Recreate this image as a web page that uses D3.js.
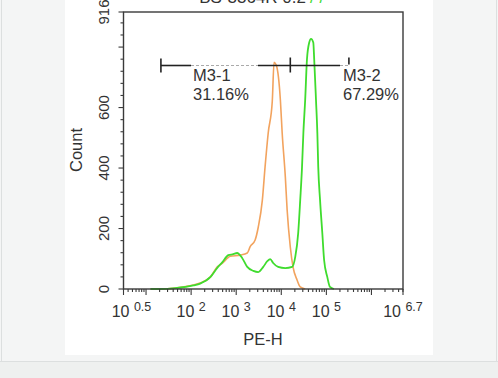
<!DOCTYPE html>
<html><head><meta charset="utf-8">
<script src="https://cdn.jsdelivr.net/npm/d3@7"></script>
<style>
html,body{margin:0;padding:0;background:#f4f5f5;}
svg{display:block;font-family:"Liberation Sans",Arial,sans-serif;}
</style></head>
<body>
<svg id="chart" width="498" height="378"></svg>
<script>
// x values are log10(PE-H)
const controlLog   = [1.10,1.32,1.65,2.05,2.20,2.43,2.58,2.69,2.87,3.09,3.245,3.31,3.42,3.49,3.58,3.64,3.71,3.80,3.84,3.89,3.98,4.02,4.09,4.13,4.20,4.26,4.35,4.42,4.53];
const controlCount = [0,   0,   3,   13,  20,  40,  73,  85,  108, 112, 119,  140, 162, 205, 294, 403, 516, 620, 750, 740, 625, 516, 370, 261, 139, 73,  30,  7,   0];
const sampleLog    = [1.10,1.32,1.65,2.05,2.20,2.43,2.58,2.69,2.825,2.935,3.02,3.135,3.245,3.38,3.49,3.60,3.69,3.755,3.82,3.93,4.09,4.24,4.31,4.375,4.42,4.46,4.49,4.53,4.57,4.62,4.66,4.71,4.73,4.77,4.80,4.82,4.86,4.91,4.95,5.02,5.08,5.17];
const sampleCount  = [0,   0,   3,   12,  18,  40,  70,  88,  112,  115,  119, 102,  73,   60,  56,  73,  92,  99,   86,  73,  69,  73,  106, 185,  294, 403, 516, 625, 760, 815, 827, 815, 760, 625, 516, 403, 294, 185, 96,  40,  7,   0];
const xTickExps    = ["0.5","2","3","4","5","6.7"];
const xTickVals    = [0.5,2,3,4,5,6.7];
const yTickVals    = [0,200,400,600,916];
const markers = [
  {name:"M3-1", pct:"31.16%", from:1.33, to:4.20},
  {name:"M3-2", pct:"67.29%", from:4.20, to:5.50}
];
const titleDark = "BS-3364R 0.2";
const titleGreen = "/ /";

const svg = d3.select("#chart");
// backgrounds
svg.append("rect").attr("x",0).attr("y",0).attr("width",498).attr("height",378).attr("fill","#f4f5f5");
svg.append("rect").attr("x",0).attr("y",361).attr("width",498).attr("height",17).attr("fill","#eef0ef");
svg.append("line").attr("x1",0).attr("x2",498).attr("y1",361.5).attr("y2",361.5).attr("stroke","#dcdfdf");
svg.append("line").attr("x1",1.5).attr("x2",1.5).attr("y1",0).attr("y2",361).attr("stroke","#dcdfdf");
svg.append("line").attr("x1",496.5).attr("x2",496.5).attr("y1",0).attr("y2",361).attr("stroke","#dcdfdf");
svg.append("rect").attr("x",65).attr("y",0).attr("width",368).attr("height",355).attr("fill","#ffffff");

const L=123.5, R=403, T=12, B=289;
const x = d3.scaleLinear().domain([0.5,6.7]).range([L,R]);
const y = d3.scaleLinear().domain([0,916]).range([B,T]);

// title (clipped at top)
const tt = svg.append("text").attr("x",306).attr("y",3).attr("text-anchor","end")
  .attr("font-size",17).attr("fill","#333").text(titleDark);
svg.append("text").attr("x",310).attr("y",3).attr("font-size",17).attr("fill","#44dd33").text(titleGreen);

// curves
const line = d3.line().x(d=>x(d[0])).y(d=>y(d[1])).curve(d3.curveMonotoneX);
svg.append("path").datum(controlLog.map((v,i)=>[v,controlCount[i]]))
  .attr("d",line).attr("fill","none").attr("stroke","#f2a35e").attr("stroke-width",1.6);
svg.append("path").datum(sampleLog.map((v,i)=>[v,sampleCount[i]]))
  .attr("d",line).attr("fill","none").attr("stroke","#3fdc2e").attr("stroke-width",1.8);

// frame
const frameColor="#3a3a3a";
svg.append("rect").attr("x",L).attr("y",T).attr("width",R-L).attr("height",B-T)
  .attr("fill","none").attr("stroke",frameColor).attr("stroke-width",1.4);

// y axis ticks
const yMinor = d3.range(0,916,40);
const yAxis = svg.append("g").attr("stroke",frameColor).attr("stroke-width",1.1);
yMinor.forEach(v=>{
  const major = v%200===0;
  yAxis.append("line").attr("x1",L-(major?5:3)).attr("x2",L).attr("y1",y(v)).attr("y2",y(v));
});
yAxis.append("line").attr("x1",L-5).attr("x2",L).attr("y1",y(916)).attr("y2",y(916));
yTickVals.forEach(v=>{
  svg.append("text").attr("transform",`translate(${L-15},${y(v)}) rotate(-90)`)
    .attr("text-anchor","middle").attr("font-size",15).attr("fill","#333").text(v);
});
svg.append("text").attr("transform",`translate(82,150) rotate(-90)`)
  .attr("text-anchor","middle").attr("font-size",16.5).attr("fill","#333").text("Count");

// x axis ticks
const xAxis = svg.append("g").attr("stroke",frameColor).attr("stroke-width",1.1);
for(let d=0; d<=6; d++){
  for(let m=1; m<=9; m++){
    const lv = d+Math.log10(m);
    if(lv<0.5||lv>6.7) continue;
    const major = m===1;
    xAxis.append("line").attr("x1",x(lv)).attr("x2",x(lv)).attr("y1",B).attr("y2",B+(major?6:3));
  }
}
xAxis.append("line").attr("x1",x(0.5)).attr("x2",x(0.5)).attr("y1",B).attr("y2",B+6);
xAxis.append("line").attr("x1",x(6.7)).attr("x2",x(6.7)).attr("y1",B).attr("y2",B+6);
xTickVals.forEach((v,i)=>{
  const t = svg.append("text").attr("x",x(v)+(i===0?8:0)).attr("y",317)
    .attr("text-anchor","middle").attr("font-size",16).attr("fill","#333");
  t.append("tspan").text("10 ");
  t.append("tspan").attr("font-size",12.5).attr("dy",-6).text(xTickExps[i]);
});
svg.append("text").attr("x",263).attr("y",345).attr("text-anchor","middle")
  .attr("font-size",16.5).attr("fill","#333").text("PE-H");

// markers
const my = 65.5;
const mg = svg.append("g");
// M3-1
const a = x(markers[0].from), b = x(markers[0].to), c = x(markers[1].to);
mg.append("line").attr("x1",a).attr("x2",191).attr("y1",my).attr("y2",my).attr("stroke","#222").attr("stroke-width",1.6);
mg.append("line").attr("x1",191).attr("x2",258).attr("y1",my).attr("y2",my).attr("stroke","#aaa").attr("stroke-width",1).attr("stroke-dasharray","3,2");
mg.append("line").attr("x1",258).attr("x2",b).attr("y1",my).attr("y2",my).attr("stroke","#222").attr("stroke-width",1.6);
mg.append("line").attr("x1",a).attr("x2",a).attr("y1",my-7).attr("y2",my+7).attr("stroke","#222").attr("stroke-width",1.6);
mg.append("line").attr("x1",b).attr("x2",b).attr("y1",my-8).attr("y2",my+7).attr("stroke","#222").attr("stroke-width",1.6);
// M3-2
mg.append("line").attr("x1",b).attr("x2",340).attr("y1",my).attr("y2",my).attr("stroke","#222").attr("stroke-width",1.6);
mg.append("line").attr("x1",340).attr("x2",c).attr("y1",my).attr("y2",my).attr("stroke","#aaa").attr("stroke-width",1).attr("stroke-dasharray","3,2");
mg.append("line").attr("x1",c).attr("x2",c).attr("y1",my-8).attr("y2",my-1).attr("stroke","#222").attr("stroke-width",1.6);

const lbl = [[193,markers[0]],[343,markers[1]]];
lbl.forEach(([lx,m])=>{
  svg.append("text").attr("x",lx).attr("y",81).attr("font-size",16.5).attr("fill","#333").text(m.name);
  svg.append("text").attr("x",lx).attr("y",100).attr("font-size",16.5).attr("fill","#333").text(m.pct);
});
</script>
</body></html>
